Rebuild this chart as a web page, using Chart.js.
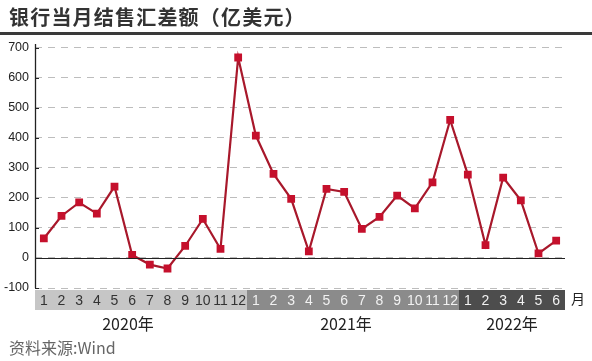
<!DOCTYPE html>
<html>
<head>
<meta charset="utf-8">
<script src="https://cdn.jsdelivr.net/npm/chart.js@4"></script>
<style>
  body { margin: 0; background: #fff; }
  #wrap { position: relative; width: 592px; height: 361px; overflow: hidden; }
  #title { position: absolute; left: 9px; top: 2px; font: bold 20px "Noto Sans CJK SC"; color: #333; letter-spacing: 1.2px; white-space: nowrap; }
  #rule { position: absolute; left: 0; top: 32px; width: 592px; height: 3px; background: #3a3a3a; }
  #source { position: absolute; left: 9px; top: 335px; font: 16px "Noto Sans CJK SC"; color: #666; white-space: nowrap; }
  #mycanvas { position: absolute; left: 0; top: 0; }
</style>
</head>
<body>
<div id="wrap">
  <canvas id="mycanvas" width="592" height="361"></canvas>
  <div id="title">银行当月结售汇差额（亿美元）</div>
  <div id="rule"></div>
  <div id="source">资料来源:Wind</div>
</div>
<script>
var months = ['1','2','3','4','5','6','7','8','9','10','11','12',
              '1','2','3','4','5','6','7','8','9','10','11','12',
              '1','2','3','4','5','6'];
var balance = [65, 140, 185, 148, 238, 10, -22, -35, 40, 130, 30, 668,
               408, 280, 197, 22, 230, 220, 97, 137, 208, 165, 252, 460,
               278, 43, 268, 192, 15, 58];
var years = ['2020年', '2021年', '2022年'];
var yearStart = [0, 12, 24];
var yearCount = [12, 12, 6];
var yTicks = [-100, 0, 100, 200, 300, 400, 500, 600, 700];

var bandColors = ['#c6c6c6', '#8b8b8b', '#4d4d4d'];
var yearLabelShift = [-13, -7, 0];

var bandPlugin = {
  id: 'band',
  beforeDraw: function(chart) {
    var ctx = chart.ctx;
    var x = chart.scales.x;
    var area = chart.chartArea;
    var step = x.getPixelForValue(1) - x.getPixelForValue(0);
    ctx.save();
    for (var i = 0; i < years.length; i++) {
      var left = x.getPixelForValue(yearStart[i]) - step / 2;
      var right = x.getPixelForValue(yearStart[i] + yearCount[i] - 1) + step / 2;
      ctx.fillStyle = bandColors[i];
      ctx.fillRect(left, area.bottom + 2, right - left, 20);
    }
    ctx.restore();
  },
  afterDraw: function(chart) {
    var ctx = chart.ctx;
    var x = chart.scales.x;
    var y = chart.scales.y;
    var area = chart.chartArea;
    var step = x.getPixelForValue(1) - x.getPixelForValue(0);
    ctx.save();
    ctx.strokeStyle = '#222';
    ctx.lineWidth = 1;
    // zero line
    var y0 = Math.round(y.getPixelForValue(0)) + 0.5;
    ctx.beginPath();
    ctx.moveTo(area.left, y0);
    ctx.lineTo(area.right, y0);
    ctx.stroke();
    // y axis line
    var ax = Math.round(area.left) + 0.5;
    ctx.lineWidth = 1.3;
    ctx.beginPath();
    ctx.moveTo(ax, area.top);
    ctx.lineTo(ax, area.bottom);
    ctx.stroke();
    // small inner ticks on y axis
    ctx.lineWidth = 1;
    for (var t = 0; t < yTicks.length; t++) {
      var ty = Math.round(y.getPixelForValue(yTicks[t])) + 0.5;
      ctx.beginPath();
      ctx.moveTo(area.left, ty);
      ctx.lineTo(area.left + 4, ty);
      ctx.stroke();
    }
    // year labels
    ctx.fillStyle = '#222';
    ctx.font = '16px "Noto Sans CJK SC"';
    ctx.textAlign = 'center';
    ctx.textBaseline = 'middle';
    for (var i = 0; i < years.length; i++) {
      var left = x.getPixelForValue(yearStart[i]) - step / 2;
      var right = x.getPixelForValue(yearStart[i] + yearCount[i] - 1) + step / 2;
      ctx.fillText(years[i], (left + right) / 2 + yearLabelShift[i], area.bottom + 36);
    }
    ctx.font = '14px "Noto Sans CJK SC"';
    ctx.fillText('月', area.right + 13, area.bottom + 11);
    ctx.restore();
  }
};

var ctx = document.getElementById('mycanvas');

var lineChart = new Chart(ctx, {
  type: 'line',
  data: {
    labels: months,
    datasets: [{
      data: balance,
      borderColor: '#a8182b',
      borderWidth: 2.2,
      backgroundColor: '#c5102c',
      pointStyle: 'rect',
      pointRadius: 5.5,
      pointBorderWidth: 0,
      pointBackgroundColor: '#c5102c',
      tension: 0
    }]
  },
  options: {
    responsive: false,
    animation: false,
    devicePixelRatio: 1,
    layout: { padding: { left: 0, right: 27, top: 44, bottom: 0 } },
    plugins: { legend: { display: false }, tooltip: { enabled: false } },
    scales: {
      x: {
        offset: true,
        grid: { display: false, drawTicks: false },
        border: { display: false },
        ticks: {
          padding: 5,
          autoSkip: false,
          maxRotation: 0,
          font: { family: 'Liberation Sans', size: 14 },
          color: function(c) { return c.index < 12 ? '#333' : '#f2f2f2'; }
        },
        afterFit: function(s) { s.height = 73; }
      },
      y: {
        min: -100,
        max: 713,
        afterBuildTicks: function(s) {
          s.ticks = yTicks.map(function(v) { return { value: v }; });
        },
        grid: { color: '#bdbdbd', lineWidth: 1, drawTicks: false },
        border: { display: false, dash: [7, 6] },
        ticks: {
          padding: 6,
          font: { family: 'Liberation Sans', size: 12.5 },
          color: '#222'
        },
        afterFit: function(s) { s.width = 35; }
      }
    }
  },
  plugins: [bandPlugin]
});
</script>
</body>
</html>
